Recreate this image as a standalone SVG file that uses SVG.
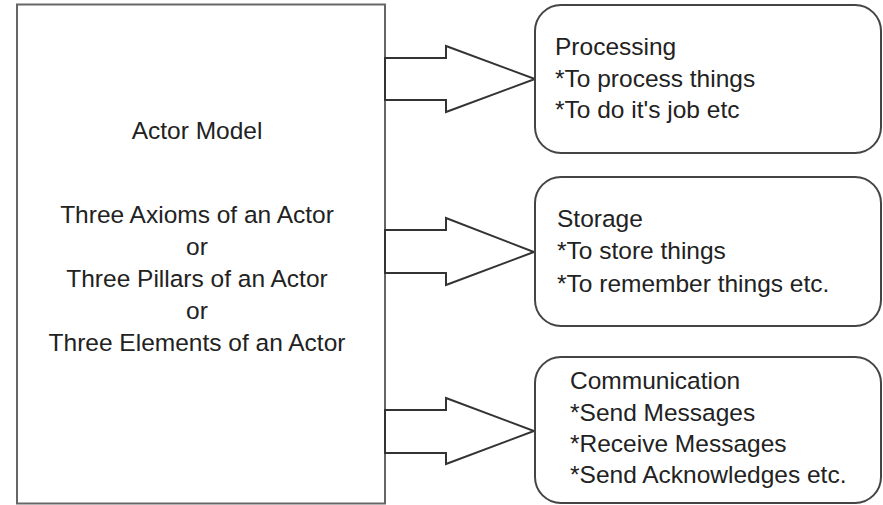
<svg xmlns="http://www.w3.org/2000/svg" width="883" height="505" viewBox="0 0 883 505">
<style>
  .box { fill: #fff; stroke: #666; stroke-width: 2; }
  .rbox { fill: #fff; stroke: #444; stroke-width: 2; }
  .arrow { fill: #fff; stroke: #333; stroke-width: 2; stroke-linejoin: miter; }
  text { font-family: "Liberation Sans", Arial, sans-serif; font-size: 24.5px; fill: #222; }
  .c { text-anchor: middle; }
</style>
<rect width="883" height="505" fill="#fff"/>
<g id="actor">
  <rect class="box" x="17" y="4.5" width="368" height="499"/>
  <text class="c" x="197" y="139">Actor Model</text>
  <text class="c" x="197" y="223">Three Axioms of an Actor</text>
  <text class="c" x="197" y="255">or</text>
  <text class="c" x="197" y="287">Three Pillars of an Actor</text>
  <text class="c" x="197" y="319">or</text>
  <text class="c" x="197" y="351">Three Elements of an Actor</text>
</g>
<g id="connectors">
  <polygon class="arrow" points="385,58 446,58 446,46 535,79 446,112 446,100 385,100"/>
  <polygon class="arrow" points="385,230 446,230 446,218 534,252 446,285 446,273 385,273"/>
  <polygon class="arrow" points="385,410 446,410 446,398 534,431 446,464 446,453 385,453"/>
</g>
<g id="processing">
  <rect class="rbox" x="535" y="5" width="346" height="148" rx="26" ry="26"/>
  <text x="555" y="55">Processing</text>
  <text x="555" y="87">*To process things</text>
  <text x="555" y="118">*To do it's job etc</text>
</g>
<g id="storage">
  <rect class="rbox" x="535" y="177" width="346" height="149" rx="26" ry="26"/>
  <text x="557" y="227">Storage</text>
  <text x="557" y="259">*To store things</text>
  <text x="557" y="292">*To remember things etc.</text>
</g>
<g id="communication">
  <rect class="rbox" x="535" y="357" width="346" height="146" rx="26" ry="26"/>
  <text x="570" y="389">Communication</text>
  <text x="570" y="421">*Send Messages</text>
  <text x="570" y="452">*Receive Messages</text>
  <text x="570" y="483">*Send Acknowledges etc.</text>
</g>
</svg>
